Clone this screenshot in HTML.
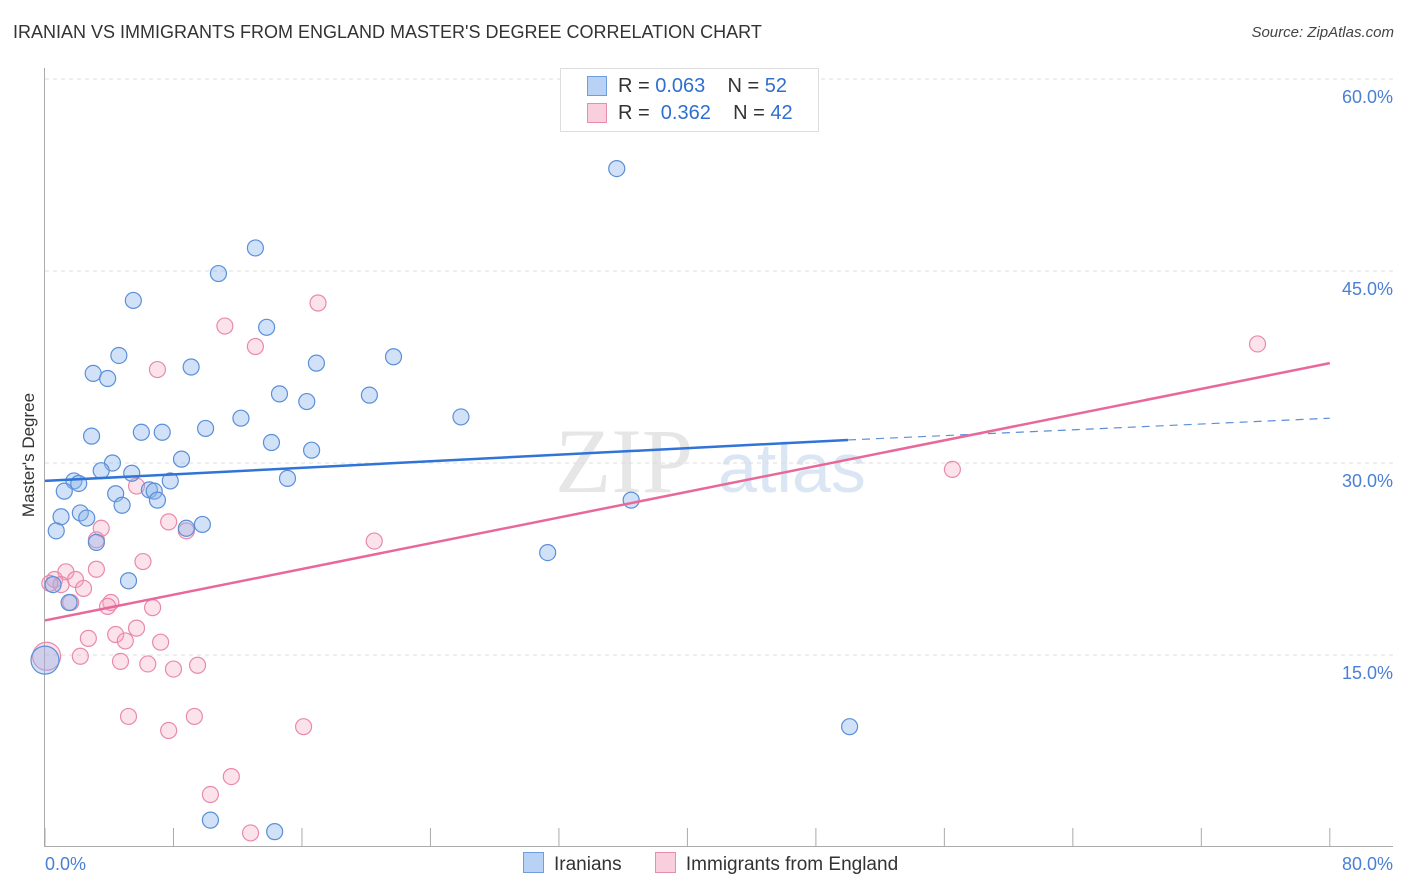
<!DOCTYPE html>
<html><head><meta charset="utf-8">
<style>
body{margin:0;background:#fff;font-family:"Liberation Sans",sans-serif;}
#wrap{position:relative;width:1406px;height:892px;overflow:hidden;}
.title{position:absolute;left:13px;top:22px;font-size:18px;color:#333;}
.source{position:absolute;right:12px;top:24px;font-size:15px;color:#444;font-style:italic;}
</style></head><body>
<div id="wrap">
<div class="title">IRANIAN VS IMMIGRANTS FROM ENGLAND MASTER'S DEGREE CORRELATION CHART</div>
<div class="source">Source: ZipAtlas.com</div>
<svg id="svg" width="1406" height="892" style="position:absolute;left:0;top:0"></svg>
</div>
<script>
const xTicks=[0,10,20,30,40,50,60,70,80];
const yTicks=[15,30,45,60];
const blueX=[35.6,13.1,10.8,5.5,13.8,4.6,21.7,3.0,3.9,9.1,16.9,14.6,16.3,20.2,12.2,25.9,10.0,6.0,7.3,2.9,14.1,16.6,8.5,4.2,3.5,5.4,1.8,2.1,7.8,15.1,1.2,4.4,6.5,6.8,7.0,4.8,36.5,2.2,1.0,2.6,9.8,8.8,0.7,3.2,31.3,5.2,0.5,1.5,0.0,50.1,10.3,14.3];
const blueY=[53.0,46.8,44.8,42.7,40.6,38.4,38.3,37.0,36.6,37.5,37.8,35.4,34.8,35.3,33.5,33.6,32.7,32.4,32.4,32.1,31.6,31.0,30.3,30.0,29.4,29.2,28.6,28.4,28.6,28.8,27.8,27.6,27.9,27.8,27.1,26.7,27.1,26.1,25.8,25.7,25.2,24.9,24.7,23.8,23.0,20.8,20.5,19.1,14.6,9.4,2.1,1.2];
const pinkX=[17.0,11.2,13.1,7.0,75.5,56.5,5.7,7.7,8.8,3.5,3.2,20.5,6.1,3.2,1.3,0.6,1.9,1.0,2.4,1.6,4.1,3.9,6.7,5.7,4.4,2.7,5.0,7.2,2.2,0.1,4.7,6.4,8.0,9.5,5.2,9.3,7.7,16.1,11.6,10.3,12.8,0.3];
const pinkY=[42.5,40.7,39.1,37.3,39.3,29.5,28.2,25.4,24.7,24.9,24.0,23.9,22.3,21.7,21.5,20.9,20.9,20.5,20.2,19.1,19.1,18.8,18.7,17.1,16.6,16.3,16.1,16.0,14.9,14.9,14.5,14.3,13.9,14.2,10.2,10.2,9.1,9.4,5.5,4.1,1.1,20.6];
const blueTrend=[28.6,31.8,33.5]; // at x=0,50,80
const pinkTrend=[17.7,37.8]; // at x=0,80
const X=v=>45+v*16.06, Y=v=>847-v*12.8;
const svg=document.getElementById('svg');const NS='http://www.w3.org/2000/svg';
function mk(t,a,p){const e=document.createElementNS(NS,t);for(const k in a)e.setAttribute(k,a[k]);(p||svg).appendChild(e);return e;}
let w=mk('text',{x:555,y:492,'font-size':92,fill:'#e6e6e6','font-family':'Liberation Serif',});w.textContent='ZIP';


let w2=mk('text',{x:718,y:492,'font-size':70,fill:'#dbe6f5','font-family':'Liberation Sans'});w2.textContent='atlas';


yTicks.forEach(v=>{let l=mk('line',{x1:45,x2:1393,y1:Y(v),y2:Y(v),stroke:'#dcdcdc','stroke-dasharray':'4,4'});


let t=mk('text',{x:1393,y:Y(v)+24,'text-anchor':'end','font-size':18,fill:'#4a7fd4'});t.textContent=v.toFixed(1)+'%';

});
mk('line',{x1:44.5,x2:44.5,y1:68,y2:847,stroke:'#aaa'});
mk('line',{x1:45,x2:1393,y1:846.5,y2:846.5,stroke:'#aaa'});
for(let i=0;i<=10;i++){let x=X(i*8);mk('line',{x1:x,x2:x,y1:828,y2:846,stroke:'#aaa'});}
[[0,'start',45],[80,'end',1393]].forEach(([v,a,x])=>{let t=mk('text',{x:x,y:870,'text-anchor':a,'font-size':18,fill:'#4a7fd4'});t.textContent=v.toFixed(1)+'%';

});
let yt=mk('text',{x:34,y:455,'text-anchor':'middle','font-size':17,fill:'#333',transform:'rotate(-90 34 455)'});yt.textContent="Master's Degree";


function pts(xs,ys,fill,stroke,name){xs.forEach((x,i)=>{const big=(x<0.2&&(ys[i]>14&&ys[i]<15.5));
let c=mk('circle',{cx:X(x),cy:Y(ys[i]),r:big?14:8,fill:fill,stroke:stroke,'stroke-width':1.2});

});}
pts(pinkX,pinkY,'rgba(244,160,190,0.3)','#e88aab','point-england');
pts(blueX,blueY,'rgba(140,180,235,0.4)','#5b8fd8','point-iranian');
let b1=mk('line',{x1:X(0),y1:Y(blueTrend[0]),x2:X(50),y2:Y(blueTrend[1]),stroke:'#2f74d6','stroke-width':2.5});


let b2=mk('line',{x1:X(50),y1:Y(blueTrend[1]),x2:X(80),y2:Y(blueTrend[2]),stroke:'#5b8fd8','stroke-width':1.2,'stroke-dasharray':'8,6'});


let p1=mk('line',{x1:X(0),y1:Y(pinkTrend[0]),x2:X(80),y2:Y(pinkTrend[1]),stroke:'#e8689a','stroke-width':2.5});


</script>
<div style="position:absolute;left:560px;top:68px;width:257px;height:62px;border:1px solid #ddd;background:#fff;font-size:20px;color:#333;">
<div style="position:absolute;left:26px;top:7px;width:18px;height:18px;background:#b8d2f5;border:1px solid #6f9ddc"></div>
<div style="position:absolute;left:57px;top:6px">R = <span style="color:#2f6fd0">0.063</span>&nbsp;&nbsp;&nbsp;&nbsp;N = <span style="color:#2f6fd0">52</span></div>
<div style="position:absolute;left:26px;top:34px;width:18px;height:18px;background:#f9cfdd;border:1px solid #e58eae"></div>
<div style="position:absolute;left:57px;top:33px">R = <span style="color:#2f6fd0">&nbsp;0.362</span>&nbsp;&nbsp;&nbsp;&nbsp;N = <span style="color:#2f6fd0">42</span></div>
</div>
<div style="position:absolute;top:852px;left:523px;font-size:19px;color:#333;">
<span><span style="display:inline-block;width:19px;height:19px;background:#b8d2f5;border:1px solid #6f9ddc;vertical-align:-3px;margin-right:10px"></span>Iranians</span>
<span style="margin-left:28px"><span style="display:inline-block;width:19px;height:19px;background:#f9cfdd;border:1px solid #e58eae;vertical-align:-3px;margin-right:10px"></span>Immigrants from England</span>
</div>
</body></html>
